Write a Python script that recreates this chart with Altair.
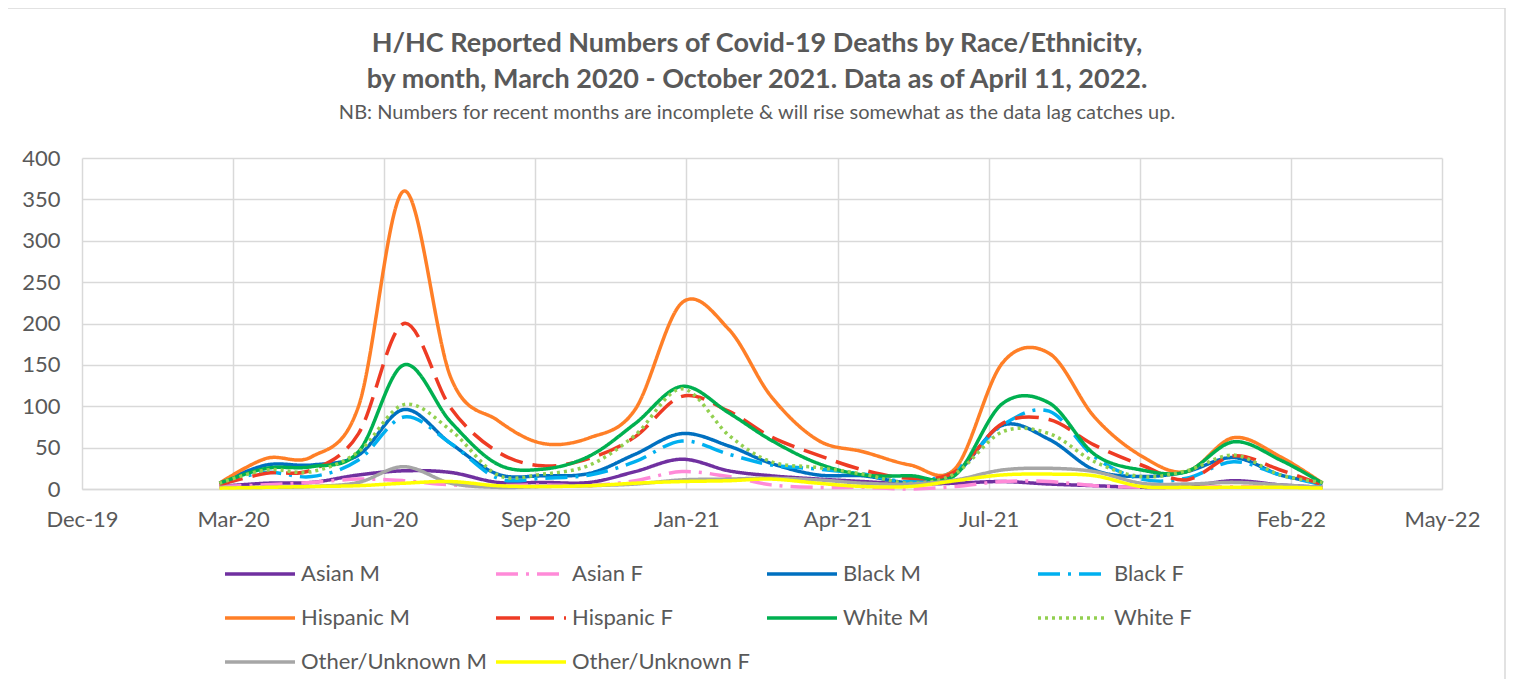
import altair as alt
import pandas as pd

months = ["2020-03-01", "2020-04-01", "2020-05-01", "2020-06-01", "2020-07-01",
          "2020-08-01", "2020-09-01", "2020-10-01", "2020-11-01", "2020-12-01",
          "2021-01-01", "2021-02-01", "2021-03-01", "2021-04-01", "2021-05-01",
          "2021-06-01", "2021-07-01", "2021-08-01", "2021-09-01", "2021-10-01",
          "2021-11-01", "2021-12-01", "2022-01-01", "2022-02-01", "2022-03-01"]

asian_m = [3, 7, 8, 17, 22, 20, 8, 8, 8, 21, 36, 22, 16, 12, 9, 6, 7, 9, 6, 4, 2, 3, 10, 5, 2]
asian_f = [3, 5, 8, 12, 10, 5, 4, 5, 4, 10, 21, 15, 5, 2, 2, 0, 3, 9, 9, 4, 2, 2, 3, 3, 2]
black_m = [7, 29, 29, 41, 96, 55, 18, 16, 19, 42, 67, 52, 31, 17, 16, 8, 19, 77, 60, 23, 15, 21, 38, 17, 7]
black_f = [7, 20, 15, 35, 87, 55, 13, 13, 17, 33, 58, 42, 29, 24, 18, 9, 23, 77, 94, 39, 12, 13, 33, 17, 5]
hispanic_m = [7, 37, 39, 100, 360, 135, 83, 55, 62, 96, 225, 193, 112, 59, 45, 29, 25, 152, 164, 87, 40, 21, 62, 39, 7]
hispanic_f = [5, 19, 23, 67, 200, 98, 45, 28, 37, 63, 112, 94, 63, 41, 23, 13, 21, 79, 84, 53, 29, 11, 40, 23, 5]
white_m = [7, 25, 27, 45, 150, 81, 30, 24, 40, 79, 124, 92, 59, 31, 17, 16, 17, 103, 104, 42, 23, 21, 57, 35, 7]
white_f = [7, 23, 21, 45, 102, 71, 17, 18, 29, 65, 121, 65, 33, 26, 18, 7, 19, 69, 67, 33, 15, 22, 41, 17, 8]
other_m = [2, 2, 3, 8, 27, 7, 2, 3, 4, 6, 11, 12, 13, 11, 7, 6, 11, 23, 25, 21, 7, 6, 8, 5, 2]
other_f = [1, 2, 3, 4, 7, 9, 4, 3, 4, 7, 9, 10, 12, 7, 3, 3, 10, 17, 18, 16, 3, 2, 2, 2, 1]

series_names = ["Asian M", "Asian F", "Black M", "Black F", "Hispanic M",
                "Hispanic F", "White M", "White F", "Other/Unknown M", "Other/Unknown F"]
series_values = [asian_m, asian_f, black_m, black_f, hispanic_m,
                 hispanic_f, white_m, white_f, other_m, other_f]
colors = ["#7030A0", "#FF8AD8", "#0070C0", "#00B0F0", "#FF7F27",
          "#EE3B24", "#00B050", "#92D050", "#A6A6A6", "#FFFF00"]
dashes = [[1, 0], [22, 8, 3, 8], [1, 0], [22, 8, 3, 8], [1, 0],
          [24, 10], [1, 0], [3, 4], [1, 0], [1, 0]]

y_ticks = [0, 50, 100, 150, 200, 250, 300, 350, 400]
# Excel date axis: base Dec 1 2019, major unit 100 days
x_ticks = [(2019, 12, 1), (2020, 3, 10), (2020, 6, 18), (2020, 9, 26), (2021, 1, 4),
           (2021, 4, 14), (2021, 7, 23), (2021, 10, 31), (2022, 2, 8), (2022, 5, 19)]

title_lines = ["H/HC Reported Numbers of Covid-19 Deaths by Race/Ethnicity,",
               "by month, March 2020 - October 2021. Data as of April 11, 2022."]
subtitle = "NB: Numbers for recent months are incomplete & will rise somewhat as the data lag catches up."

rows = []
for name, vals in zip(series_names, series_values):
    for d, v in zip(months, vals):
        rows.append({"series": name, "date": d, "deaths": v})
df = pd.DataFrame(rows)


def dt(t):
    return alt.DateTime(year=t[0], month=t[1], date=t[2], utc=True)


FONT = "Lato"
GRAY = "#595959"
GRID = "#D9D9D9"

legend = alt.Legend(
    title=None, orient="none", legendX=141, legendY=396, columns=4,
    direction="horizontal", symbolType="stroke", symbolSize=4900,
    symbolStrokeWidth=3.5, labelFont=FONT, labelFontSize=22, labelColor=GRAY,
    labelOffset=4, labelLimit=400, columnPadding=7, rowPadding=4, clipHeight=40,
    gridAlign="all", padding=0,
)

lines = alt.Chart(df).mark_line(interpolate="cardinal", strokeWidth=3.5).encode(
    x=alt.X("date:T",
            scale=alt.Scale(type="utc", domain=[dt(x_ticks[0]), dt(x_ticks[-1])]),
            axis=alt.Axis(values=[dt(t) for t in x_ticks],
                          labelExpr="utcFormat(datum.value, '%b-%y')",
                          title=None, grid=True, gridColor=GRID, gridWidth=1.5,
                          domainColor=GRID, domainWidth=1.5, ticks=False,
                          labelFont=FONT, labelFontSize=22, labelColor=GRAY,
                          labelPadding=20, labelFlush=False)),
    y=alt.Y("deaths:Q", scale=alt.Scale(domain=[0, 400], nice=False),
            axis=alt.Axis(values=y_ticks, title=None, grid=True, gridColor=GRID,
                          gridWidth=1.5, domain=False, ticks=False,
                          labelFont=FONT, labelFontSize=22, labelColor=GRAY,
                          labelPadding=22)),
    color=alt.Color("series:N", scale=alt.Scale(domain=series_names, range=colors),
                    legend=legend),
    strokeDash=alt.StrokeDash("series:N", scale=alt.Scale(domain=series_names, range=dashes),
                              legend=legend),
)

frame = alt.Chart(pd.DataFrame({"a": [0]})).mark_rect(
    filled=False, stroke=GRID, strokeWidth=1.5
).encode(
    x=alt.value(-76), x2=alt.value(1423), y=alt.value(-150), y2=alt.value(600)
)

chart = alt.layer(frame, lines).properties(
    width=1360, height=331,
    autosize=alt.AutoSizeParams(type="none"),
    padding={"left": 74, "top": 150, "right": 65, "bottom": 190},
    background="white",
    title=alt.TitleParams(
        text=title_lines, subtitle=subtitle, font=FONT, fontSize=27,
        fontWeight="bold", color=GRAY, lineHeight=36,
        subtitleFont=FONT, subtitleFontSize=20, subtitleColor=GRAY,
        subtitlePadding=9, anchor="middle", frame="group", offset=-117, dx=-5,
    ),
).configure_view(stroke=None)

chart.save("out.html", embed_options={"renderer": "svg", "actions": False})
